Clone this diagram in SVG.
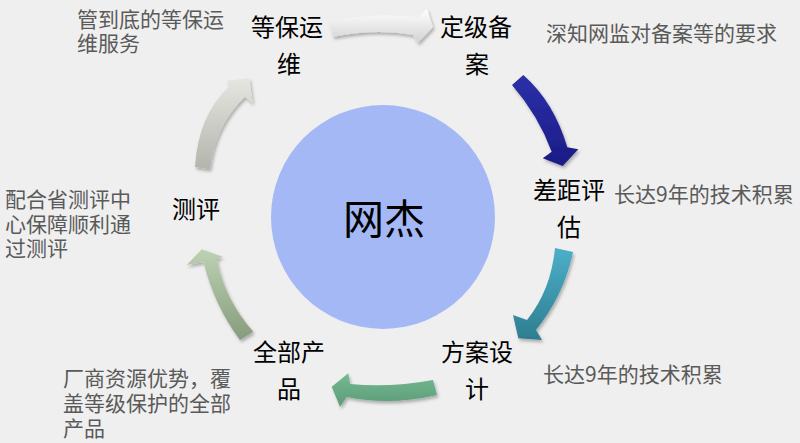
<svg xmlns="http://www.w3.org/2000/svg" width="800" height="443" viewBox="0 0 800 443">
<defs>
<style>
.node{font-family:"Noto Sans CJK SC","Noto Sans",sans-serif;font-size:24px;fill:#000;text-anchor:middle}
.desc{font-family:"Noto Sans CJK SC","Noto Sans",sans-serif;font-size:21px;fill:#5a5a5a}
.center{font-family:"Noto Sans CJK SC","Noto Sans",sans-serif;font-size:41px;fill:#000;text-anchor:middle}
.arrow{filter:url(#sh)}
</style>
<filter id="sh" x="-30%" y="-30%" width="160%" height="160%">
<feDropShadow dx="1.5" dy="2.5" stdDeviation="1.8" flood-color="#000" flood-opacity="0.28"/>
</filter>
<linearGradient id="gTop" x1="0" y1="0" x2="0" y2="1"><stop offset="0" stop-color="#ffffff"/><stop offset="1" stop-color="#d2d2d2"/></linearGradient>
<linearGradient id="gBlue" x1="0" y1="0" x2="0" y2="1"><stop offset="0" stop-color="#2c30a8"/><stop offset="1" stop-color="#1b1b86"/></linearGradient>
<linearGradient id="gTeal" x1="0" y1="0" x2="0" y2="1"><stop offset="0" stop-color="#4bb0c8"/><stop offset="1" stop-color="#2e7d90"/></linearGradient>
<linearGradient id="gGreen" x1="0" y1="0" x2="0" y2="1"><stop offset="0" stop-color="#74b991"/><stop offset="1" stop-color="#5c9c78"/></linearGradient>
<linearGradient id="gSage" x1="0" y1="0" x2="0" y2="1"><stop offset="0" stop-color="#bcd2b2"/><stop offset="1" stop-color="#869c7c"/></linearGradient>
<linearGradient id="gGray" x1="0" y1="0" x2="0" y2="1"><stop offset="0" stop-color="#e6e6e1"/><stop offset="1" stop-color="#b4b4ad"/></linearGradient>
</defs>
<rect x="0" y="0" width="800" height="443" fill="#efefef"/>

<g id="connectors">
<path class="arrow" fill="url(#gTop)" d="M330,22 Q370,12 418,17 L427,9 L433,27 L418,43 L413,35 Q375,28 333,37 Z"/>
<path class="arrow" fill="url(#gBlue)" d="M512,85 Q538,115 551.7,151.7 L542.7,158.3 L562.7,166 L578.3,149.3 L567.3,147.3 Q554,102 523.3,75 Z"/>
<path class="arrow" fill="url(#gTeal)" d="M555,248 Q551,290 527,320 L513,315 L518.3,338.3 L542,340 L536,330 Q564,295 573,252 Z"/>
<path class="arrow" fill="url(#gGreen)" d="M433,380 Q390,388 350,384 L348.3,373.3 L331.7,386.7 L340,406.7 L346.7,397 Q390,406 437,395 Z"/>
<path class="arrow" fill="url(#gSage)" d="M240,340 Q214,305 203.5,262 L186.7,265 L201.7,249.3 L222.7,256.7 L216.7,259.3 Q225,300 253.3,331.7 Z"/>
<path class="arrow" fill="url(#gGray)" d="M195,167 Q198,115 230,85.5 L226.7,80.7 L249.3,78.3 L252.7,103.3 L245,96.7 Q215,125 210,169.3 Z"/>
</g>

<g id="center">
<circle cx="383" cy="217" r="112" fill="#a4b8f5"/>
<text class="center" x="384" y="234">网杰</text>
</g>

<g id="node-dengbao">
<text class="node" x="287" y="36">等保运</text>
<text class="node" x="289" y="73">维</text>
<text class="desc" x="77" y="27">管到底的等保运</text>
<text class="desc" x="77" y="51">维服务</text>
</g>

<g id="node-dingji">
<text class="node" x="476" y="36">定级备</text>
<text class="node" x="477" y="73">案</text>
<text class="desc" x="546" y="41">深知网监对备案等的要求</text>
</g>

<g id="node-chaju">
<text class="node" x="569" y="199">差距评</text>
<text class="node" x="569" y="236">估</text>
<text class="desc" x="614" y="202">长达9年的技术积累</text>
</g>

<g id="node-fangan">
<text class="node" x="477" y="361">方案设</text>
<text class="node" x="477" y="398">计</text>
<text class="desc" x="543" y="382">长达9年的技术积累</text>
</g>

<g id="node-quanbu">
<text class="node" x="289" y="361">全部产</text>
<text class="node" x="289" y="398">品</text>
<text class="desc" x="63" y="386">厂商资源优势，覆</text>
<text class="desc" x="63" y="411">盖等级保护的全部</text>
<text class="desc" x="63" y="436">产品</text>
</g>

<g id="node-ceping">
<text class="node" x="196" y="218">测评</text>
<text class="desc" x="5" y="207">配合省测评中</text>
<text class="desc" x="5" y="232">心保障顺利通</text>
<text class="desc" x="5" y="256">过测评</text>
</g>
</svg>
